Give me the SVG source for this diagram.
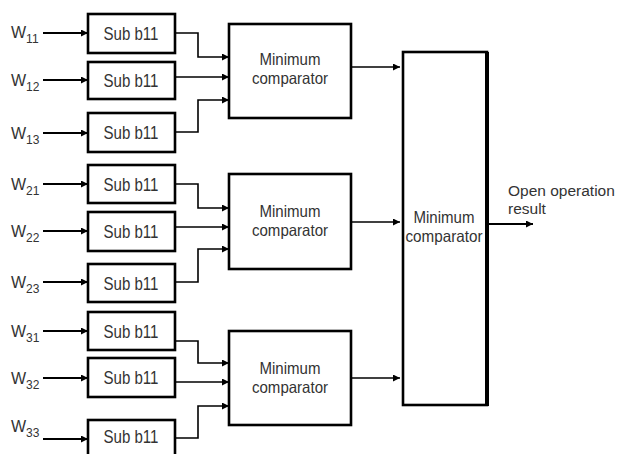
<svg xmlns="http://www.w3.org/2000/svg" width="618" height="454" viewBox="0 0 618 454">
<style>
.box{fill:#fff;stroke:#000;stroke-width:2.6}
.t{font-family:"Liberation Sans Narrow","Liberation Sans",Arial,sans-serif;font-size:18px;fill:#333}
.o{font-size:15.5px}
.m{font-size:16.5px}
.c{text-anchor:middle}
.w{font-family:"Liberation Sans Narrow","Liberation Sans",Arial,sans-serif;font-size:16px;fill:#333}
.s{font-size:12px}
.ln{fill:none;stroke:#000;stroke-width:1.6}
.in{fill:none;stroke:#000;stroke-width:2}
</style>
<defs>
<marker id="ah" markerUnits="userSpaceOnUse" markerWidth="7" markerHeight="7" refX="7" refY="3.5" orient="auto">
<path d="M0,0 L7,3.5 L0,7 z" fill="#000"/>
</marker>
</defs>
<rect width="618" height="454" fill="#fff"/>
<g id="connectors">
<path class="in" d="M43,33 H88" marker-end="url(#ah)"/>
<path class="in" d="M43,80 H88" marker-end="url(#ah)"/>
<path class="in" d="M43,133 H88" marker-end="url(#ah)"/>
<path class="in" d="M43,184 H88" marker-end="url(#ah)"/>
<path class="in" d="M43,231 H88" marker-end="url(#ah)"/>
<path class="in" d="M43,282 H88" marker-end="url(#ah)"/>
<path class="in" d="M43,331 H88" marker-end="url(#ah)"/>
<path class="in" d="M43,378 H88" marker-end="url(#ah)"/>
<path class="in" d="M43,439 H88" marker-end="url(#ah)"/>
<path class="ln" d="M175,33 H198 V57 H229" marker-end="url(#ah)"/>
<path class="ln" d="M175,77 H229" marker-end="url(#ah)"/>
<path class="ln" d="M175,132 H198 V100 H229" marker-end="url(#ah)"/>
<path class="ln" d="M175,184 H198 V208 H229" marker-end="url(#ah)"/>
<path class="ln" d="M175,227 H229" marker-end="url(#ah)"/>
<path class="ln" d="M175,282 H198 V249 H229" marker-end="url(#ah)"/>
<path class="ln" d="M175,341 H198 V363 H229" marker-end="url(#ah)"/>
<path class="ln" d="M175,382 H229" marker-end="url(#ah)"/>
<path class="ln" d="M175,438 H198 V406 H229" marker-end="url(#ah)"/>
<path class="ln" d="M351,67 H400" marker-end="url(#ah)"/>
<path class="ln" d="M351,222 H400" marker-end="url(#ah)"/>
<path class="ln" d="M351,378 H400" marker-end="url(#ah)"/>
<path class="in" d="M488,224 H533" marker-end="url(#ah)"/>
</g>
<g id="labels">
<text class="w" x="11" y="38">W<tspan class="s" dy="5">11</tspan></text>
<text class="w" x="11" y="86">W<tspan class="s" dy="5">12</tspan></text>
<text class="w" x="11" y="139">W<tspan class="s" dy="5">13</tspan></text>
<text class="w" x="11" y="190">W<tspan class="s" dy="5">21</tspan></text>
<text class="w" x="11" y="237">W<tspan class="s" dy="5">22</tspan></text>
<text class="w" x="11" y="288">W<tspan class="s" dy="5">23</tspan></text>
<text class="w" x="11" y="337">W<tspan class="s" dy="5">31</tspan></text>
<text class="w" x="11" y="384">W<tspan class="s" dy="5">32</tspan></text>
<text class="w" x="11" y="432">W<tspan class="s" dy="5">33</tspan></text>
</g>
<g id="sub11"><rect class="box" x="88" y="14" width="87" height="39"/><text class="t c" x="131" y="40" textLength="55" lengthAdjust="spacingAndGlyphs">Sub b11</text></g>
<g id="sub12"><rect class="box" x="88" y="62" width="87" height="37"/><text class="t c" x="131" y="87" textLength="55" lengthAdjust="spacingAndGlyphs">Sub b11</text></g>
<g id="sub13"><rect class="box" x="88" y="113" width="87" height="39"/><text class="t c" x="131" y="139" textLength="55" lengthAdjust="spacingAndGlyphs">Sub b11</text></g>
<g id="sub21"><rect class="box" x="88" y="165" width="87" height="38"/><text class="t c" x="131" y="191" textLength="55" lengthAdjust="spacingAndGlyphs">Sub b11</text></g>
<g id="sub22"><rect class="box" x="88" y="212" width="87" height="39"/><text class="t c" x="131" y="238" textLength="55" lengthAdjust="spacingAndGlyphs">Sub b11</text></g>
<g id="sub23"><rect class="box" x="88" y="264" width="87" height="38"/><text class="t c" x="131" y="290" textLength="55" lengthAdjust="spacingAndGlyphs">Sub b11</text></g>
<g id="sub31"><rect class="box" x="88" y="312" width="87" height="38"/><text class="t c" x="131" y="338" textLength="55" lengthAdjust="spacingAndGlyphs">Sub b11</text></g>
<g id="sub32"><rect class="box" x="88" y="358" width="87" height="39"/><text class="t c" x="131" y="384" textLength="55" lengthAdjust="spacingAndGlyphs">Sub b11</text></g>
<g id="sub33"><rect class="box" x="88" y="420" width="87" height="40"/><text class="t c" x="131" y="443" textLength="55" lengthAdjust="spacingAndGlyphs">Sub b11</text></g>
<g id="comp1"><rect class="box" x="229" y="24" width="122" height="94"/><text class="t m c" x="290" y="65" textLength="61" lengthAdjust="spacingAndGlyphs">Minimum</text><text class="t m c" x="290" y="84" textLength="76" lengthAdjust="spacingAndGlyphs">comparator</text></g>
<g id="comp2"><rect class="box" x="229" y="174" width="122" height="95"/><text class="t m c" x="290" y="217" textLength="61" lengthAdjust="spacingAndGlyphs">Minimum</text><text class="t m c" x="290" y="236" textLength="76" lengthAdjust="spacingAndGlyphs">comparator</text></g>
<g id="comp3"><rect class="box" x="229" y="331" width="122" height="94"/><text class="t m c" x="290" y="374" textLength="61" lengthAdjust="spacingAndGlyphs">Minimum</text><text class="t m c" x="290" y="393" textLength="76" lengthAdjust="spacingAndGlyphs">comparator</text></g>
<g id="compFinal"><rect class="box" x="403" y="52" width="84" height="353"/><line x1="487" y1="52" x2="487" y2="406" stroke="#000" stroke-width="4"/><text class="t m c" x="444" y="223" textLength="61" lengthAdjust="spacingAndGlyphs">Minimum</text><text class="t m c" x="444" y="242" textLength="77" lengthAdjust="spacingAndGlyphs">comparator</text></g>
<g id="output"><text class="t o" x="508" y="196">Open operation</text><text class="t o" x="508" y="214">result</text></g>
</svg>
